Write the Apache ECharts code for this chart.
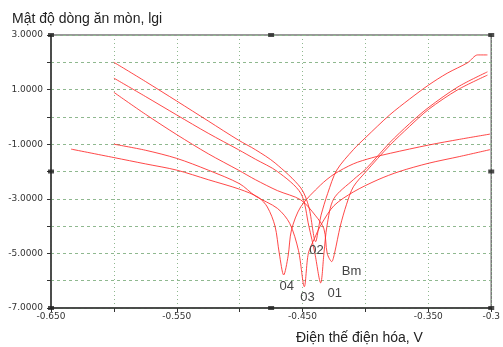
<!DOCTYPE html>
<html>
<head>
<meta charset="utf-8">
<script src="https://cdn.jsdelivr.net/npm/echarts@6/dist/echarts.min.js"></script>
<style>
  html, body { margin: 0; padding: 0; background: #fff; }
  #chart { width: 503px; height: 347px; }
</style>
</head>
<body>
<div id="chart"></div>
<script>
// đường cong phân cực, [thế V, lgi]
const curve02 = [[-0.6, 2.0], [-0.575, 1.3], [-0.55, 0.58], [-0.525, -0.15], [-0.501, -0.85], [-0.4875, -1.2],
  [-0.4718, -1.69], [-0.4514, -2.6], [-0.445, -3.3], [-0.4396, -4.57],
  [-0.437, -4.0], [-0.4353, -3.6], [-0.43, -2.8], [-0.4228, -1.95], [-0.4096, -1.2], [-0.3995, -0.74],
  [-0.3808, 0.07], [-0.365, 0.65], [-0.3497, 1.17], [-0.335, 1.6], [-0.3186, 1.99], [-0.3108, 2.27], [-0.303, 2.27]]
const curve01 = [[-0.6, 1.42], [-0.575, 0.75], [-0.55, 0.07], [-0.525, -0.6], [-0.501, -1.2], [-0.4875, -1.55],
  [-0.47, -2.0], [-0.4514, -2.8], [-0.445, -4.0], [-0.4402, -5.0], [-0.4356, -6.08],
  [-0.433, -5.0], [-0.4306, -4.0], [-0.4252, -3.0], [-0.4096, -2.3], [-0.3995, -1.9], [-0.3808, -0.95],
  [-0.365, -0.25], [-0.3497, 0.35], [-0.3264, 1.1], [-0.303, 1.65]]
const curveBm = [[-0.6, 0.9], [-0.575, 0.1], [-0.55, -0.65], [-0.525, -1.35], [-0.501, -1.95], [-0.4875, -2.3],
  [-0.47, -2.7], [-0.4514, -3.04], [-0.44, -3.6], [-0.433, -4.1], [-0.4304, -5.0], [-0.4268, -5.3],
  [-0.4246, -5.0], [-0.42, -4.0], [-0.415, -3.2], [-0.4096, -2.56], [-0.3995, -2.0], [-0.3808, -1.05],
  [-0.365, -0.35], [-0.3497, 0.28], [-0.3264, 1.0], [-0.303, 1.53]]
const curve03 = [[-0.6, -1.0], [-0.575, -1.22], [-0.55, -1.52], [-0.525, -1.95], [-0.5, -2.45], [-0.4875, -2.9],
  [-0.47, -3.35], [-0.4602, -3.9], [-0.4532, -4.9], [-0.4486, -6.22],
  [-0.4454, -5.0], [-0.4405, -4.45], [-0.4353, -3.95], [-0.425, -3.25], [-0.4096, -2.75], [-0.39, -2.3],
  [-0.373, -2.0], [-0.35, -1.7], [-0.325, -1.45], [-0.301, -1.2]]
const curve04 = [[-0.634, -1.18], [-0.6, -1.49], [-0.575, -1.72], [-0.55, -1.95], [-0.525, -2.3], [-0.5, -2.65],
  [-0.485, -2.95], [-0.478, -3.3], [-0.4719, -4.0], [-0.4685, -5.0], [-0.465, -5.79],
  [-0.4615, -5.1], [-0.4588, -4.14], [-0.4514, -3.29], [-0.4358, -2.5], [-0.425, -2.1], [-0.4096, -1.72],
  [-0.395, -1.5], [-0.38, -1.33], [-0.3497, -1.03], [-0.325, -0.82], [-0.301, -0.63]]

const curveNames = ['01', '02', '03', '04', 'Bm']
// vị trí nhãn tên đường (theo dữ liệu)
const labelPos = {
  '01': [-0.4244, -6.45],
  '02': [-0.439, -4.88],
  '03': [-0.446, -6.6],
  '04': [-0.4625, -6.2],
  'Bm': [-0.411, -5.65]
}
const xTickLabels = { '-0.65': '-0.650', '-0.55': '-0.550', '-0.45': '-0.450', '-0.35': '-0.350', '-0.3': '-0.3' }
const yTickLabels = { '3': '3.0000', '1': '1.0000', '-1': '-1.0000', '-3': '-3.0000', '-5': '-5.0000', '-7': '-7.0000' }
// các ô vuông nhỏ trên khung
const frameMarks = [[-0.65, 3], [-0.65, -2], [-0.65, -7], [-0.475, 3], [-0.475, -7], [-0.3, 3], [-0.3, -2], [-0.3, -7]]

const curves = { '01': curve01, '02': curve02, '03': curve03, '04': curve04, 'Bm': curveBm }

const lineColor = 'rgba(255, 40, 40, 0.85)'

const series = curveNames.map(function(n) {
  return {
    name: n,
    type: 'line',
    smooth: 0.3,
    symbol: 'none',
    lineStyle: { color: lineColor, width: 1 },
    data: curves[n],
    markPoint: {
      symbol: 'circle',
      symbolSize: 1,
      silent: true,
      itemStyle: { color: 'rgba(0,0,0,0)' },
      label: { show: true, position: 'inside', formatter: n, color: '#444', fontSize: 13, fontFamily: 'Liberation Sans' },
      data: [{ coord: labelPos[n] }]
    }
  }
})
series.push({
  type: 'scatter',
  symbol: 'rect',
  symbolSize: [6, 4],
  itemStyle: { color: '#222' },
  clip: false,
  silent: true,
  data: frameMarks
})

const myChart = echarts.init(document.getElementById('chart'))
myChart.setOption({
  animation: false,
  title: {
    text: 'Mật độ dòng ăn mòn, lgi',
    left: 7,
    top: 7,
    textStyle: { color: '#222', fontSize: 14, fontWeight: 'normal', fontFamily: 'Liberation Sans' }
  },
  graphic: [{
    type: 'text',
    left: 296,
    top: 331,
    style: { text: 'Điện thế điện hóa, V', fill: '#222', font: '14px "Liberation Sans"' }
  }],
  grid: {
    left: 51,
    top: 35,
    right: 2,
    bottom: 39,
    show: true,
    borderColor: '#777',
    borderWidth: 1.5
  },
  xAxis: {
    type: 'value',
    min: -0.65,
    max: -0.3,
    interval: 0.05,
    axisLine: { onZero: false, lineStyle: { color: '#333', width: 1.5 } },
    axisTick: { show: true, length: 4, lineStyle: { color: '#333' } },
    axisLabel: {
      color: '#333',
      fontSize: 9,
      fontFamily: 'DejaVu Sans',
      margin: 4,
      showMaxLabel: true,
      formatter: function(v) {
        return xTickLabels[String(Math.round(v * 100) / 100)] || ''
      }
    },
    splitLine: { show: true, lineStyle: { color: '#8fb88f', type: [1, 3], width: 1 } }
  },
  yAxis: {
    type: 'value',
    min: -7,
    max: 3,
    interval: 1,
    axisLine: { show: true, onZero: false, lineStyle: { color: '#333', width: 1.5 } },
    axisTick: { show: true, length: 4, lineStyle: { color: '#333' } },
    axisLabel: {
      color: '#333',
      fontSize: 9,
      fontFamily: 'DejaVu Sans',
      margin: 8,
      formatter: function(v) {
        return yTickLabels[String(Math.round(v))] || ''
      }
    },
    splitLine: { show: true, lineStyle: { color: '#8fb88f', type: [3, 3], width: 1 } }
  },
  series: series
})
</script>
</body>
</html>
